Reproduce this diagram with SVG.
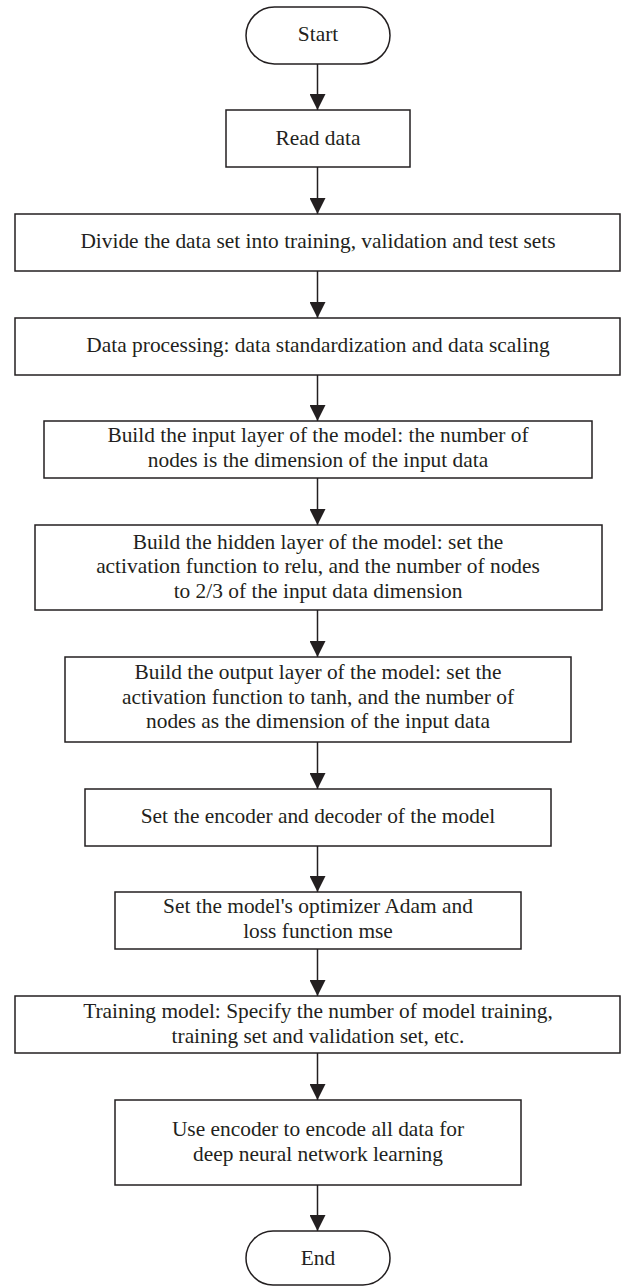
<svg xmlns="http://www.w3.org/2000/svg" width="622" height="1286" viewBox="0 0 622 1286">
  <style>
    .box { fill: #ffffff; stroke: #231f20; stroke-width: 1.5; }
    .lbl { font-family: "Liberation Serif", "Times New Roman", serif; font-size: 21.4px; fill: #231f20; text-anchor: middle; }
    .edge { stroke: #231f20; stroke-width: 1.5; fill: none; marker-end: url(#arrow); }
  </style>
  <defs>
    <marker id="arrow" markerUnits="userSpaceOnUse" markerWidth="16" markerHeight="16" refX="16" refY="8" orient="auto">
      <path d="M0,0 L16,8 L0,16 Z" fill="#231f20"/>
    </marker>
  </defs>
  <rect width="622" height="1286" fill="#ffffff"/>

  <!-- connectors: straight down the centre line -->
  <g id="connectors">
    <line class="edge" x1="317.5" y1="64" x2="317.5" y2="110"/>
    <line class="edge" x1="317.5" y1="167" x2="317.5" y2="214"/>
    <line class="edge" x1="317.5" y1="271" x2="317.5" y2="318"/>
    <line class="edge" x1="317.5" y1="375" x2="317.5" y2="421"/>
    <line class="edge" x1="317.5" y1="478" x2="317.5" y2="525"/>
    <line class="edge" x1="317.5" y1="610" x2="317.5" y2="657"/>
    <line class="edge" x1="317.5" y1="742" x2="317.5" y2="789"/>
    <line class="edge" x1="317.5" y1="846" x2="317.5" y2="892"/>
    <line class="edge" x1="317.5" y1="949" x2="317.5" y2="996"/>
    <line class="edge" x1="317.5" y1="1053" x2="317.5" y2="1100"/>
    <line class="edge" x1="317.5" y1="1185" x2="317.5" y2="1231"/>
  </g>

  <g id="start">
    <rect class="box" x="246" y="7" width="144" height="57" rx="28.5" ry="28.5"/>
    <text class="lbl" x="318" y="41">Start</text>
  </g>

  <g id="read-data">
    <rect class="box" x="226" y="110" width="184" height="57"/>
    <text class="lbl" x="318" y="145">Read data</text>
  </g>

  <g id="split-data">
    <rect class="box" x="15" y="214" width="605" height="57"/>
    <text class="lbl" x="318" y="248">Divide the data set into training, validation and test sets</text>
  </g>

  <g id="preprocess">
    <rect class="box" x="15" y="318" width="605" height="57"/>
    <text class="lbl" x="318" y="352">Data processing: data standardization and data scaling</text>
  </g>

  <g id="input-layer">
    <rect class="box" x="44" y="421" width="548" height="57"/>
    <text class="lbl" x="318" y="442">Build the input layer of the model: the number of</text>
    <text class="lbl" x="318" y="467">nodes is the dimension of the input data</text>
  </g>

  <g id="hidden-layer">
    <rect class="box" x="35" y="525" width="567" height="85"/>
    <text class="lbl" x="318" y="548.5">Build the hidden layer of the model: set the</text>
    <text class="lbl" x="318" y="573">activation function to relu, and the number of nodes</text>
    <text class="lbl" x="318" y="597.5">to 2/3 of the input data dimension</text>
  </g>

  <g id="output-layer">
    <rect class="box" x="65" y="657" width="506" height="85"/>
    <text class="lbl" x="318" y="679">Build the output layer of the model: set the</text>
    <text class="lbl" x="318" y="703.5">activation function to tanh, and the number of</text>
    <text class="lbl" x="318" y="728">nodes as the dimension of the input data</text>
  </g>

  <g id="encoder-decoder">
    <rect class="box" x="85" y="789" width="466" height="57"/>
    <text class="lbl" x="318" y="823">Set the encoder and decoder of the model</text>
  </g>

  <g id="optimizer">
    <rect class="box" x="115" y="892" width="406" height="57"/>
    <text class="lbl" x="318" y="912.5">Set the model's optimizer Adam and</text>
    <text class="lbl" x="318" y="937.5">loss function mse</text>
  </g>

  <g id="training">
    <rect class="box" x="15" y="996" width="605" height="57"/>
    <text class="lbl" x="318" y="1017.5">Training model: Specify the number of model training,</text>
    <text class="lbl" x="318" y="1042.5">training set and validation set, etc.</text>
  </g>

  <g id="encode-all">
    <rect class="box" x="115" y="1100" width="406" height="85"/>
    <text class="lbl" x="318" y="1136">Use encoder to encode all data for</text>
    <text class="lbl" x="318" y="1161">deep neural network learning</text>
  </g>

  <g id="end">
    <rect class="box" x="246" y="1231" width="144" height="54" rx="27" ry="27"/>
    <text class="lbl" x="318" y="1265">End</text>
  </g>
</svg>
